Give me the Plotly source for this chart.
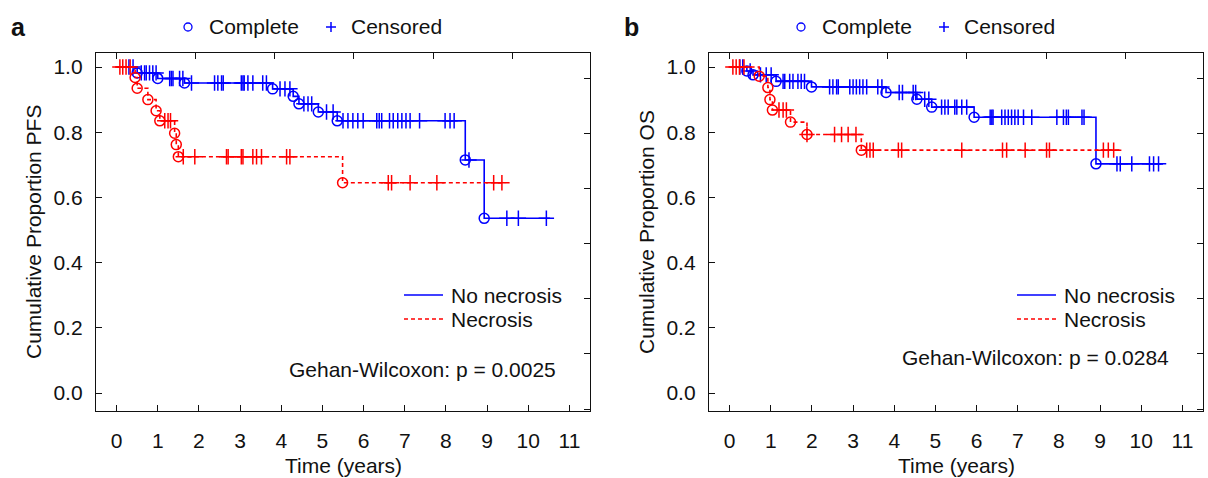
import numpy as np
import plotly.graph_objects as go

W, H = 1208, 478

# ---------------- Panel a: progression-free survival ----------------
pfs_none_event_t = [0.50, 1.00, 1.65, 3.79, 4.29, 4.43, 4.90, 5.36, 8.47, 8.93]
pfs_none_event_s = [0.982, 0.965, 0.951, 0.933, 0.910, 0.887, 0.862, 0.835, 0.715, 0.536]
pfs_none_end = 10.53
pfs_none_cens = [0.30, 0.40, 0.60, 0.68, 0.72, 0.80, 0.88, 0.96,
                 1.29, 1.33, 1.37, 1.53, 1.61,
                 1.82, 2.38, 2.46, 2.55, 2.59, 3.03, 3.07, 3.10, 3.19, 3.31, 3.55, 3.64,
                 3.97, 4.09, 4.21, 4.55, 4.65, 4.74, 5.10, 5.26,
                 5.50, 5.62, 5.74, 5.86, 5.99, 6.32, 6.38, 6.44, 6.63, 6.72, 6.83, 6.93,
                 7.03, 7.13, 7.36, 7.98, 8.10, 8.20, 8.56, 9.48, 9.76, 10.44]

pfs_nec_event_t = [0.45, 0.50, 0.76, 0.96, 1.05, 1.41, 1.45, 1.50, 5.49]
pfs_nec_event_s = [0.968, 0.935, 0.900, 0.866, 0.835, 0.797, 0.762, 0.725, 0.645]
pfs_nec_end = 9.44
pfs_nec_cens = [0.08, 0.15, 0.23, 0.33, 1.17, 1.25, 1.31,
                1.62, 1.90, 2.67, 2.71, 3.03, 3.07, 3.31, 3.40, 3.52, 4.13, 4.21,
                6.60, 6.68, 7.13, 7.78, 9.16, 9.36]

# ---------------- Panel b: overall survival ----------------
os_none_event_t = [0.42, 0.57, 1.13, 1.99, 3.80, 4.55, 4.91, 5.94, 8.90]
os_none_event_s = [0.988, 0.976, 0.956, 0.939, 0.922, 0.901, 0.877, 0.846, 0.703]
os_none_end = 10.53
os_none_cens = [0.25, 0.32, 0.50, 0.75, 0.89, 1.01,
                1.30, 1.34, 1.46, 1.54, 1.66, 1.74, 1.82,
                2.43, 2.51, 2.60, 2.64, 2.92, 3.00, 3.08, 3.16, 3.24, 3.33, 3.60, 3.70,
                4.12, 4.20, 4.46, 4.52, 4.74, 4.84,
                5.15, 5.23, 5.31, 5.47, 5.52, 5.64, 5.76,
                6.33, 6.37, 6.40, 6.61, 6.69, 6.77, 6.85, 6.93, 7.01, 7.14, 7.34,
                7.95, 8.11, 8.18, 8.23, 8.56, 8.61,
                9.41, 9.49, 9.77, 10.20, 10.30, 10.42]

os_nec_event_t = [0.72, 0.93, 0.98, 1.04, 1.48, 1.88, 3.20]
os_nec_event_s = [0.972, 0.937, 0.900, 0.868, 0.831, 0.793, 0.745]
os_nec_end = 9.47
os_nec_cens = [0.08, 0.16, 0.24, 0.35, 1.20, 1.30, 1.38,
               1.88, 2.55, 2.72, 2.88, 3.07,
               3.33, 3.41, 3.49, 4.10, 4.18, 5.64, 6.63, 6.73, 7.18, 7.70, 7.77,
               9.08, 9.20, 9.33]

x_ticks = list(range(0, 12))
y_ticks = [0.0, 0.2, 0.4, 0.6, 0.8, 1.0]
y_tick_text = [f"{v:.1f}" for v in y_ticks]

BLUE = "#0000FF"
RED = "#FF0000"
INK = "#111111"
FONT = "Liberation Sans, Arial, sans-serif"
FS = 21


def step_at(event_t, event_s, t):
    """Kaplan-Meier value at time t (right-continuous step)."""
    levels = np.array([1.0] + list(event_s))
    idx = np.searchsorted(np.array(event_t), np.array(t), side="right")
    return levels[idx]


def km_traces(event_t, event_s, end_t, cens_t, color, dash, xa, ya):
    xs = [0.0] + list(event_t) + [end_t]
    ys = [1.0] + list(event_s) + [event_s[-1]]
    line = go.Scatter(x=xs, y=ys, mode="lines", line=dict(color=color, width=1.6, dash=dash, shape="hv"),
                      xaxis=xa, yaxis=ya, showlegend=False, hoverinfo="skip")
    events = go.Scatter(x=event_t, y=event_s, mode="markers",
                        marker=dict(symbol="circle-open", size=10, color=color, line=dict(width=1.5, color=color)),
                        xaxis=xa, yaxis=ya, showlegend=False, hoverinfo="skip")
    cens = go.Scatter(x=cens_t, y=step_at(event_t, event_s, cens_t), mode="markers",
                      marker=dict(symbol="cross-thin", size=11, color=color, line=dict(width=1.5, color=color)),
                      xaxis=xa, yaxis=ya, showlegend=False, hoverinfo="skip")
    return [line, events, cens]


fig = go.Figure()
for tr in (km_traces(pfs_none_event_t, pfs_none_event_s, pfs_none_end, pfs_none_cens, BLUE, "solid", "x", "y")
           + km_traces(pfs_nec_event_t, pfs_nec_event_s, pfs_nec_end, pfs_nec_cens, RED, "4px,3px", "x", "y")
           + km_traces(os_none_event_t, os_none_event_s, os_none_end, os_none_cens, BLUE, "solid", "x2", "y2")
           + km_traces(os_nec_event_t, os_nec_event_s, os_nec_end, os_nec_cens, RED, "4px,3px", "x2", "y2")):
    fig.add_trace(tr)

# empty traces so the overlay tick axes get drawn
fig.add_trace(go.Scatter(x=[None], y=[None], xaxis="x3", yaxis="y3", showlegend=False, hoverinfo="skip"))
fig.add_trace(go.Scatter(x=[None], y=[None], xaxis="x4", yaxis="y4", showlegend=False, hoverinfo="skip"))

# plot-area geometry (pixels)
TOP, BOT = 53, 411
PANELS = [(96, 590), (709, 1203)]
XR = [-0.5, 11.5]
YR = [-0.055, 1.043]
ydom = [1 - BOT / H, 1 - TOP / H]

# secondary tick scales drawn on the top and right frame edges
KX = 1.922
KY, Y0 = 0.169, 0.12

axis_common = dict(showgrid=False, zeroline=False, ticks="inside", ticklen=6, tickwidth=1.2,
                   tickcolor=INK, linecolor=INK, linewidth=1.3, showline=True, mirror=True,
                   tickfont=dict(family=FONT, size=FS, color=INK))
overlay_common = dict(showgrid=False, zeroline=False, ticks="inside", ticklen=6, tickwidth=1.2,
                      tickcolor=INK, showline=False, showticklabels=False)

layout_axes = {}
for i, (l, r) in enumerate(PANELS):
    xn = "xaxis" if i == 0 else "xaxis2"
    yn = "yaxis" if i == 0 else "yaxis2"
    xid = "x" if i == 0 else "x2"
    yid = "y" if i == 0 else "y2"
    layout_axes[xn] = dict(domain=[l / W, r / W], range=XR, tickvals=x_ticks, anchor=yid,
                           ticklabelstandoff=11, **axis_common)
    layout_axes[yn] = dict(domain=ydom, range=YR, tickvals=y_ticks, ticktext=y_tick_text, anchor=xid,
                           ticklabelstandoff=8, **axis_common)
    on = "xaxis3" if i == 0 else "xaxis4"
    oyn = "yaxis3" if i == 0 else "yaxis4"
    layout_axes[on] = dict(overlaying=xid, anchor=yid, side="top", range=[XR[0] / KX, XR[1] / KX],
                           tick0=0, dtick=1, **overlay_common)
    layout_axes[oyn] = dict(overlaying=yid, anchor=xid, side="right",
                            range=[(YR[0] - Y0) / KY, (YR[1] - Y0) / KY], tick0=0, dtick=1, **overlay_common)


def px(x):
    return x / W


def py(y):
    return 1 - y / H


annotations = []
shapes = []


def text(s, x, y, xanchor="left", size=FS, bold=False, angle=0):
    annotations.append(dict(text=f"<b>{s}</b>" if bold else s, x=px(x), y=py(y), xref="paper", yref="paper",
                            xanchor=xanchor, yanchor="middle", showarrow=False, textangle=angle,
                            font=dict(family=FONT, size=size, color=INK)))


panel_text = [
    dict(tag="a", ytitle="Cumulative Proportion PFS", p="Gehan-Wilcoxon: p = 0.0025", p_y=369),
    dict(tag="b", ytitle="Cumulative Proportion OS", p="Gehan-Wilcoxon: p = 0.0284", p_y=357),
]
OFF = 613
for i, info in enumerate(panel_text):
    o = i * OFF
    l, r = PANELS[i]
    text(info["tag"], 18 + o, 27, xanchor="center", size=25, bold=True)
    # marker key above the frame
    shapes.append(dict(type="circle", xref="paper", yref="paper", x0=px(184 + o), x1=px(192 + o),
                       y0=py(31), y1=py(23), line=dict(color=BLUE, width=1.3)))
    text("Complete", 207 + o, 27)
    shapes.append(dict(type="line", xref="paper", yref="paper", x0=px(326 + o), x1=px(336 + o),
                       y0=py(27), y1=py(27), line=dict(color=BLUE, width=1.5)))
    shapes.append(dict(type="line", xref="paper", yref="paper", x0=px(331 + o), x1=px(331 + o),
                       y0=py(22), y1=py(32), line=dict(color=BLUE, width=1.5)))
    text("Censored", 349 + o, 27)
    # group key inside the frame
    shapes.append(dict(type="line", xref="paper", yref="paper", x0=px(404 + o), x1=px(443 + o),
                       y0=py(295), y1=py(295), line=dict(color=BLUE, width=1.5)))
    text("No necrosis", 449 + o, 295)
    shapes.append(dict(type="line", xref="paper", yref="paper", x0=px(404 + o), x1=px(443 + o),
                       y0=py(319), y1=py(319), line=dict(color=RED, width=1.5, dash="4px,3px")))
    text("Necrosis", 449 + o, 319)
    text(info["p"], 558 + o, info["p_y"], xanchor="right")
    # axis titles
    text(info["ytitle"], 34 + o, (TOP + BOT) / 2, xanchor="center", angle=-90)
    text("Time (years)", (l + r) / 2, 465, xanchor="center")

fig.update_layout(
    width=W, height=H,
    margin=dict(l=0, r=0, t=0, b=0),
    paper_bgcolor="white", plot_bgcolor="white",
    showlegend=False,
    annotations=annotations, shapes=shapes,
    **layout_axes,
)

fig.write_html("out.html")
